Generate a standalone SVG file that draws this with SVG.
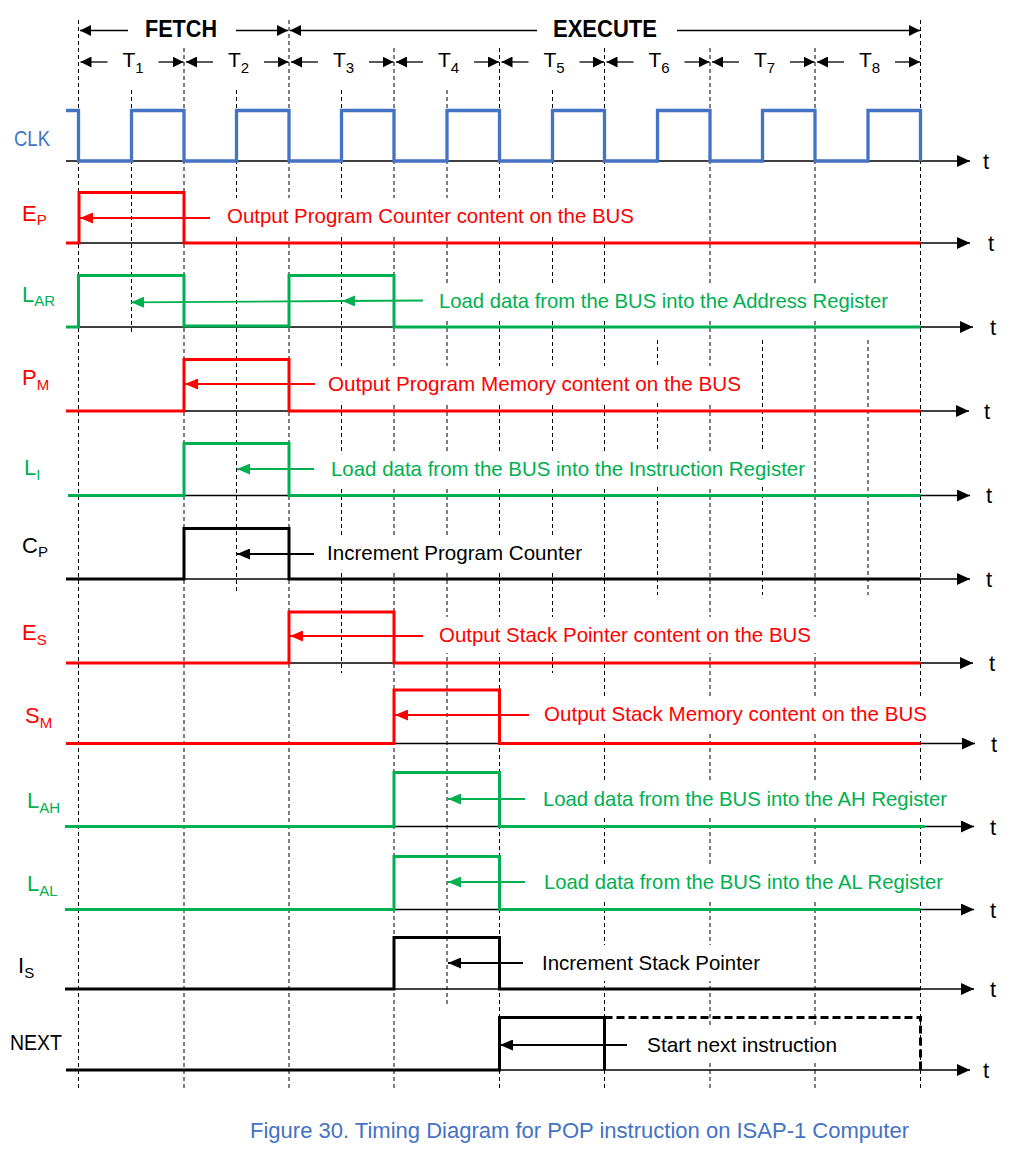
<svg xmlns="http://www.w3.org/2000/svg" width="1028" height="1174" viewBox="0 0 1028 1174">
<style>
text{font-family:"Liberation Sans",Arial,sans-serif}
.sig{fill:none;stroke-width:3;stroke-linejoin:miter;stroke-linecap:butt}
.red{stroke:#FF0000}.grn{stroke:#00B050}.blk{stroke:#000}.blu{stroke:#4472C4;stroke-width:3.3}
.axis{stroke:#000;stroke-width:1.3;marker-end:url(#ax)}
.grid{stroke:#000;stroke-width:1;stroke-dasharray:4 3;fill:none}
.hdr{stroke:#000;stroke-width:1.3;marker-end:url(#hd)}
.ann{stroke-width:1.8;fill:none}
.ar{marker-end:url(#ar-r)}.ag{marker-end:url(#ar-g)}.ak{marker-end:url(#ar-k)}
.lbl{font-size:22px}
.sub{font-size:15px}
.note{font-size:21px}
.tt{font-size:22px;fill:#000}
.box{fill:#fff;stroke:none}
.fr{fill:#FF0000}.fg{fill:#00B050}.fk{fill:#000}.fb{fill:#4472C4}
</style>
<defs>
<marker id="ax" markerUnits="userSpaceOnUse" markerWidth="14" markerHeight="12" refX="13" refY="6" orient="auto"><path d="M0,0 L13,6 L0,12 z" fill="#000"/></marker>
<marker id="hd" markerUnits="userSpaceOnUse" markerWidth="12" markerHeight="11" refX="11" refY="5.5" orient="auto"><path d="M0,0 L11,5.5 L0,11 z" fill="#000"/></marker>
<marker id="ar-r" markerUnits="userSpaceOnUse" markerWidth="14" markerHeight="11" refX="13" refY="5.5" orient="auto"><path d="M0,0 L13,5.5 L0,11 z" fill="#FF0000"/></marker>
<marker id="ar-g" markerUnits="userSpaceOnUse" markerWidth="14" markerHeight="11" refX="13" refY="5.5" orient="auto"><path d="M0,0 L13,5.5 L0,11 z" fill="#00B050"/></marker>
<marker id="ar-k" markerUnits="userSpaceOnUse" markerWidth="14" markerHeight="11" refX="13" refY="5.5" orient="auto"><path d="M0,0 L13,5.5 L0,11 z" fill="#000"/></marker>
</defs>
<rect width="1028" height="1174" fill="#fff"/>

<g id="grid">
<line class="grid" x1="78.5" y1="20" x2="78.5" y2="1090"/>
<line class="grid" x1="184" y1="48" x2="184" y2="1090"/>
<line class="grid" x1="289" y1="20" x2="289" y2="1090"/>
<line class="grid" x1="394" y1="48" x2="394" y2="1090"/>
<line class="grid" x1="499.5" y1="48" x2="499.5" y2="1090"/>
<line class="grid" x1="604.5" y1="48" x2="604.5" y2="1090"/>
<line class="grid" x1="710" y1="48" x2="710" y2="1090"/>
<line class="grid" x1="815" y1="48" x2="815" y2="1090"/>
<line class="grid" x1="920.5" y1="20" x2="920.5" y2="1090"/>
<line class="grid" x1="131.5" y1="90" x2="131.5" y2="335"/>
<line class="grid" x1="236.5" y1="90" x2="236.5" y2="592"/>
<line class="grid" x1="341.5" y1="90" x2="341.5" y2="673"/>
<line class="grid" x1="447" y1="90" x2="447" y2="1005"/>
<line class="grid" x1="552.5" y1="90" x2="552.5" y2="673"/>
<line class="grid" x1="657.5" y1="340" x2="657.5" y2="595"/>
<line class="grid" x1="762.5" y1="340" x2="762.5" y2="595"/>
<line class="grid" x1="868" y1="340" x2="868" y2="595"/>
</g>

<g id="header">
<line class="hdr" x1="128" y1="30.5" x2="80" y2="30.5"/>
<line class="hdr" x1="236" y1="30.5" x2="288" y2="30.5"/>
<line class="hdr" x1="537" y1="30.5" x2="290" y2="30.5"/>
<line class="hdr" x1="677" y1="30.5" x2="920" y2="30.5"/>
<text x="145" y="37" font-size="24" font-weight="bold" textLength="72" lengthAdjust="spacingAndGlyphs">FETCH</text>
<text x="553" y="37" font-size="24" font-weight="bold" textLength="104" lengthAdjust="spacingAndGlyphs">EXECUTE</text>
<line class="hdr" x1="107.5" y1="62" x2="80.5" y2="62"/><line class="hdr" x1="158.5" y1="62" x2="183.5" y2="62"/>
<line class="hdr" x1="213" y1="62" x2="186" y2="62"/><line class="hdr" x1="264" y1="62" x2="288.5" y2="62"/>
<line class="hdr" x1="318" y1="62" x2="291" y2="62"/><line class="hdr" x1="369" y1="62" x2="393.5" y2="62"/>
<line class="hdr" x1="423" y1="62" x2="396" y2="62"/><line class="hdr" x1="474" y1="62" x2="499" y2="62"/>
<line class="hdr" x1="528.5" y1="62" x2="501.5" y2="62"/><line class="hdr" x1="579.5" y1="62" x2="604" y2="62"/>
<line class="hdr" x1="633.5" y1="62" x2="606.5" y2="62"/><line class="hdr" x1="684.5" y1="62" x2="709.5" y2="62"/>
<line class="hdr" x1="739" y1="62" x2="712" y2="62"/><line class="hdr" x1="790" y1="62" x2="814.5" y2="62"/>
<line class="hdr" x1="844" y1="62" x2="817" y2="62"/><line class="hdr" x1="895" y1="62" x2="920" y2="62"/>
<text x="122.5" y="67" font-size="21">T<tspan font-size="15" dy="5.5">1</tspan></text>
<text x="228" y="67" font-size="21">T<tspan font-size="15" dy="5.5">2</tspan></text>
<text x="333" y="67" font-size="21">T<tspan font-size="15" dy="5.5">3</tspan></text>
<text x="438" y="67" font-size="21">T<tspan font-size="15" dy="5.5">4</tspan></text>
<text x="543.5" y="67" font-size="21">T<tspan font-size="15" dy="5.5">5</tspan></text>
<text x="648.5" y="67" font-size="21">T<tspan font-size="15" dy="5.5">6</tspan></text>
<text x="754" y="67" font-size="21">T<tspan font-size="15" dy="5.5">7</tspan></text>
<text x="859" y="67" font-size="21">T<tspan font-size="15" dy="5.5">8</tspan></text>
</g>

<g id="note-boxes">
<rect class="box" x="219" y="198" width="421" height="36"/>
<rect class="box" x="431" y="283" width="463" height="36"/>
<rect class="box" x="320" y="366" width="427" height="36"/>
<rect class="box" x="323" y="451" width="488" height="36"/>
<rect class="box" x="319" y="535" width="269" height="36"/>
<rect class="box" x="431" y="617" width="386" height="36"/>
<rect class="box" x="536" y="696" width="397" height="36"/>
<rect class="box" x="535" y="781" width="418" height="36"/>
<rect class="box" x="536" y="864" width="413" height="36"/>
<rect class="box" x="534" y="945" width="232" height="36"/>
<rect class="box" x="639" y="1027" width="204" height="35"/>
</g>

<g id="sig-clk">
<line class="axis" x1="66" y1="161" x2="970" y2="161"/>
<path class="sig blu" d="M66,110.5 H78.5 V161 H131.5 V110.5 H184 V161 H236.5 V110.5 H289 V161 H341.5 V110.5 H394 V161 H447 V110.5 H499.5 V161 H552.5 V110.5 H604.5 V161 H657.5 V110.5 H710 V161 H762.5 V110.5 H815 V161 H868 V110.5 H920.5 V161"/>
<text class="lbl fb" x="14" y="146" textLength="36" lengthAdjust="spacingAndGlyphs">CLK</text>
<text class="tt" x="983" y="169">t</text>
</g>

<g id="sig-ep">
<line class="axis" x1="66" y1="243" x2="970" y2="243"/>
<path class="sig red" d="M66,243 H79 V192.5 H184 V243 H920.5"/>
<text class="lbl fr" x="22" y="221">E<tspan class="sub" dy="4">P</tspan></text>
<text class="tt" x="988" y="251">t</text>
</g>

<g id="sig-lar">
<line class="axis" x1="66" y1="327" x2="973" y2="327"/>
<path class="sig grn" d="M66,327 H78.5 V275.5 H184 V326 H289 V275.5 H394 V327 H920.5"/>
<text class="lbl fg" x="22" y="302">L<tspan class="sub" dy="4">AR</tspan></text>
<text class="tt" x="990" y="335">t</text>
</g>

<g id="sig-pm">
<line class="axis" x1="66" y1="411" x2="969" y2="411"/>
<path class="sig red" d="M66,411 H184 V359.5 H289 V411 H920.5"/>
<text class="lbl fr" x="22" y="385">P<tspan class="sub" dy="5">M</tspan></text>
<text class="tt" x="984" y="419">t</text>
</g>

<g id="sig-li">
<line class="axis" x1="68" y1="495.5" x2="970" y2="495.5"/>
<path class="sig grn" d="M68,495.5 H184 V443.5 H289 V495.5 H920.5"/>
<text class="lbl fg" x="24" y="475">L<tspan class="sub" dy="5">I</tspan></text>
<text class="tt" x="986" y="503">t</text>
</g>

<g id="sig-cp">
<line class="axis" x1="66" y1="579" x2="970" y2="579"/>
<path class="sig blk" d="M66,579 H184 V528.5 H289 V579 H920.5"/>
<text class="lbl fk" x="22" y="553">C<tspan class="sub" dy="4">P</tspan></text>
<text class="tt" x="986" y="587">t</text>
</g>

<g id="sig-es">
<line class="axis" x1="66" y1="663" x2="973" y2="663"/>
<path class="sig red" d="M66,663 H289 V612 H394 V663 H920.5"/>
<text class="lbl fr" x="22" y="640">E<tspan class="sub" dy="5">S</tspan></text>
<text class="tt" x="989" y="671">t</text>
</g>

<g id="sig-sm">
<line class="axis" x1="66" y1="743.5" x2="975" y2="743.5"/>
<path class="sig red" d="M66,743.5 H394 V690 H499.5 V743.5 H920.5"/>
<text class="lbl fr" x="25" y="723">S<tspan class="sub" dy="5">M</tspan></text>
<text class="tt" x="991" y="752">t</text>
</g>

<g id="sig-lah">
<line class="axis" x1="65" y1="826.5" x2="974" y2="826.5"/>
<path class="sig grn" d="M65,826.5 H394 V772.5 H499.5 V826.5 H925"/>
<text class="lbl fg" x="27" y="808">L<tspan class="sub" dy="5">AH</tspan></text>
<text class="tt" x="990" y="835">t</text>
</g>

<g id="sig-lal">
<line class="axis" x1="65" y1="909.5" x2="974" y2="909.5"/>
<path class="sig grn" d="M65,909.5 H394 V856.5 H499.5 V909.5 H920.5"/>
<text class="lbl fg" x="27" y="891">L<tspan class="sub" dy="5">AL</tspan></text>
<text class="tt" x="990" y="918">t</text>
</g>

<g id="sig-is">
<line class="axis" x1="65" y1="989" x2="974" y2="989"/>
<path class="sig blk" d="M65,989 H394 V937.5 H499.5 V989 H920.5"/>
<text class="lbl fk" x="18" y="973">I<tspan class="sub" dy="5">S</tspan></text>
<text class="tt" x="990" y="997">t</text>
</g>

<g id="sig-next">
<line class="axis" x1="66" y1="1070" x2="970" y2="1070"/>
<path class="sig blk" d="M66,1070 H499.5 V1017.5 H604.5 V1070"/>
<path class="sig blk" stroke-dasharray="8 4" d="M604.5,1017.5 H920.5 V1070"/>
<text class="lbl fk" x="10" y="1050" textLength="52" lengthAdjust="spacingAndGlyphs">NEXT</text>
<text class="tt" x="983" y="1078">t</text>
</g>

<g id="connectors">
<line class="ann red ar" x1="210" y1="218" x2="80" y2="218"/>
<polyline class="ann grn ag" style="marker-mid:url(#ar-g)" points="423,300.5 342,301 131,302.3"/>
<line class="ann red ar" x1="315" y1="384" x2="185" y2="384"/>
<line class="ann grn ag" x1="314" y1="469" x2="237" y2="469"/>
<line class="ann blk ak" x1="314" y1="554" x2="237" y2="554"/>
<line class="ann red ar" x1="423" y1="636" x2="290" y2="636"/>
<line class="ann red ar" x1="529" y1="715" x2="395" y2="715"/>
<line class="ann grn ag" x1="525" y1="799" x2="448" y2="799"/>
<line class="ann grn ag" x1="525" y1="882" x2="448" y2="882"/>
<line class="ann blk ak" x1="523" y1="963" x2="448" y2="963"/>
<line class="ann blk ak" x1="627" y1="1045" x2="500" y2="1045"/>
</g>

<g id="notes">
<text class="note fr" x="227" y="223" textLength="407" lengthAdjust="spacingAndGlyphs">Output Program Counter content on the BUS</text>
<text class="note fg" x="439" y="308" textLength="449" lengthAdjust="spacingAndGlyphs">Load data from the BUS into the Address Register</text>
<text class="note fr" x="328" y="391" textLength="413" lengthAdjust="spacingAndGlyphs">Output Program Memory content on the BUS</text>
<text class="note fg" x="331" y="476" textLength="474" lengthAdjust="spacingAndGlyphs">Load data from the BUS into the Instruction Register</text>
<text class="note fk" x="327" y="560" textLength="255" lengthAdjust="spacingAndGlyphs">Increment Program Counter</text>
<text class="note fr" x="439" y="642" textLength="372" lengthAdjust="spacingAndGlyphs">Output Stack Pointer content on the BUS</text>
<text class="note fr" x="544" y="721" textLength="383" lengthAdjust="spacingAndGlyphs">Output Stack Memory content on the BUS</text>
<text class="note fg" x="543" y="806" textLength="404" lengthAdjust="spacingAndGlyphs">Load data from the BUS into the AH Register</text>
<text class="note fg" x="544" y="889" textLength="399" lengthAdjust="spacingAndGlyphs">Load data from the BUS into the AL Register</text>
<text class="note fk" x="542" y="970" textLength="218" lengthAdjust="spacingAndGlyphs">Increment Stack Pointer</text>
<text class="note fk" x="647" y="1052" textLength="190" lengthAdjust="spacingAndGlyphs">Start next instruction</text>
</g>

<text id="caption" class="fb" x="250" y="1138" font-size="22" textLength="659" lengthAdjust="spacingAndGlyphs">Figure 30. Timing Diagram for POP instruction on ISAP-1 Computer</text>
</svg>
